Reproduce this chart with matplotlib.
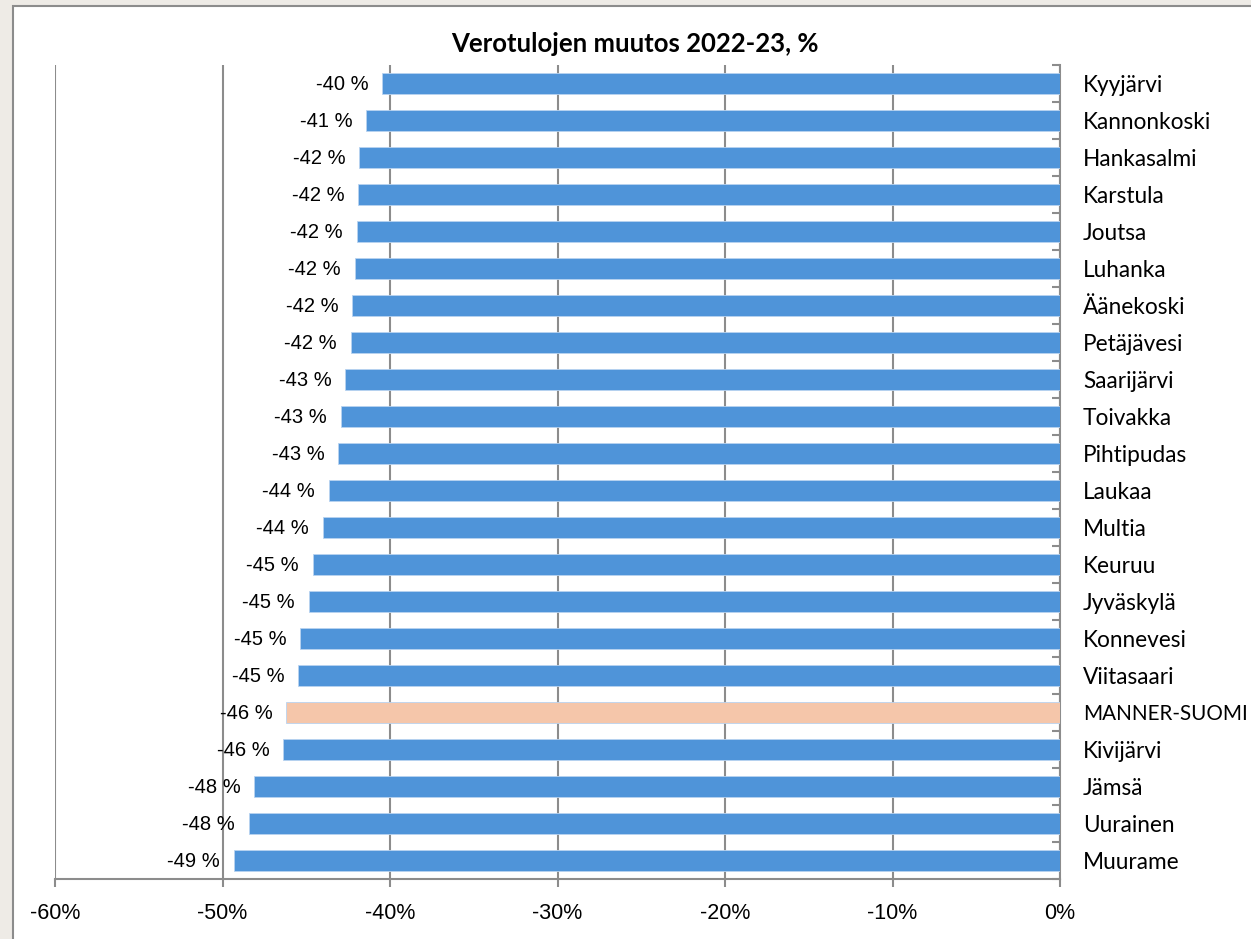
"""Verotulojen muutos 2022-23 -- horizontal bar chart."""
import matplotlib
matplotlib.use('Agg')
import matplotlib.pyplot as plt
from matplotlib.patches import Rectangle
import matplotlib.ticker as mticker
import numpy as np

# --- Data (top to bottom) ---
municipalities = ['Kyyjärvi', 'Kannonkoski', 'Hankasalmi', 'Karstula', 'Joutsa',
                  'Luhanka', 'Äänekoski', 'Petäjävesi', 'Saarijärvi', 'Toivakka',
                  'Pihtipudas', 'Laukaa', 'Multia', 'Keuruu', 'Jyväskylä',
                  'Konnevesi', 'Viitasaari', 'MANNER-SUOMI', 'Kivijärvi', 'Jämsä',
                  'Uurainen', 'Muurame']
change_pct = [-40.46, -41.41, -41.83, -41.89, -41.97, -42.09, -42.25, -42.33,
              -42.67, -42.94, -43.08, -43.64, -44.0, -44.62, -44.84, -45.36,
              -45.49, -46.19, -46.37, -48.1, -48.44, -49.33]
highlight = 'MANNER-SUOMI'
x_ticks = [-60, -50, -40, -30, -20, -10, 0]

# --- Palette ---
PAGE_BG = '#eeebe6'
FRAME = '#8c8c8c'
BAR_BLUE = '#4f94d9'
BAR_PEACH = '#f5c6aa'
GRID = '#8c8c8c'
INK = '#000000'

NUM_FONT = ['Liberation Sans', 'DejaVu Sans']
CAT_FONT = ['Lato', 'DejaVu Sans']

fig = plt.figure(figsize=(12.51, 9.39), dpi=100, facecolor=PAGE_BG)

# white chart area with grey frame (runs off the right/bottom edges)
fig.patches.append(Rectangle((13 / 1251, -0.05), 1.1, 1 - 6 / 939 + 0.05,
                             transform=fig.transFigure, facecolor='white',
                             edgecolor=FRAME, linewidth=1.5, zorder=-1))

ax = fig.add_axes([55 / 1251, 1 - 879 / 939, (1060 - 55) / 1251, (879 - 65) / 939])
ax.set_zorder(1)
ax.set_facecolor('white')

y = np.arange(len(municipalities))
colors = [BAR_PEACH if m == highlight else BAR_BLUE for m in municipalities]
ax.barh(y, change_pct, height=0.55, color=colors, edgecolor='#b9d3f0',
        linewidth=0.6, zorder=3)

for yi, v in zip(y, change_pct):
    ax.annotate(f'{round(v):d} %', xy=(v, yi), xytext=(-10, -1),
                textcoords='offset points', ha='right', va='center',
                fontsize=14.5, family=NUM_FONT, color=INK, zorder=4)

ax.set_xlim(-60, 0)
ax.set_ylim(len(municipalities) - 0.5, -0.5)

ax.set_xticks(x_ticks)
ax.xaxis.set_major_formatter(mticker.FuncFormatter(lambda v, p: f'{v:.0f}%'))
ax.tick_params(axis='x', direction='out', length=6, width=1.5, color=GRID,
               pad=11, labelsize=15.5)

ax.set_yticks(y)
ax.yaxis.set_minor_locator(mticker.FixedLocator(np.arange(-0.5, len(y), 1.0)))
ax.tick_params(axis='y', which='major', left=False, right=True, labelleft=False,
               labelright=True, length=0, pad=16.5)
ax.tick_params(axis='y', which='minor', left=False, right=True, direction='in',
               length=6, width=1.5, color=GRID)
ax.set_yticklabels(municipalities, family=CAT_FONT, fontsize=16.3)

ax.grid(axis='x', color=GRID, linewidth=1.5, zorder=1)
ax.set_axisbelow(True)
for side in ['top', 'left']:
    ax.spines[side].set_visible(False)
ax.spines['bottom'].set_color(GRID)
ax.spines['bottom'].set_linewidth(1.5)
ax.spines['right'].set_color(GRID)
ax.spines['right'].set_linewidth(1.5)

fig.text(635 / 1251, 1 - 44 / 939, 'Verotulojen muutos 2022-23, %',
         ha='center', va='center', fontsize=18.5, fontweight='bold',
         family=CAT_FONT, color=INK, zorder=2)

# font tweaks last, after all tick_params calls
for lab in ax.get_xticklabels():
    lab.set_family(NUM_FONT)
for tick in ax.yaxis.get_major_ticks():
    if tick.label2.get_text() == highlight:
        tick.label2.set_fontsize(14.9)  # keep the long caps label inside the frame

fig.savefig('out.png', dpi=100, facecolor=PAGE_BG)
